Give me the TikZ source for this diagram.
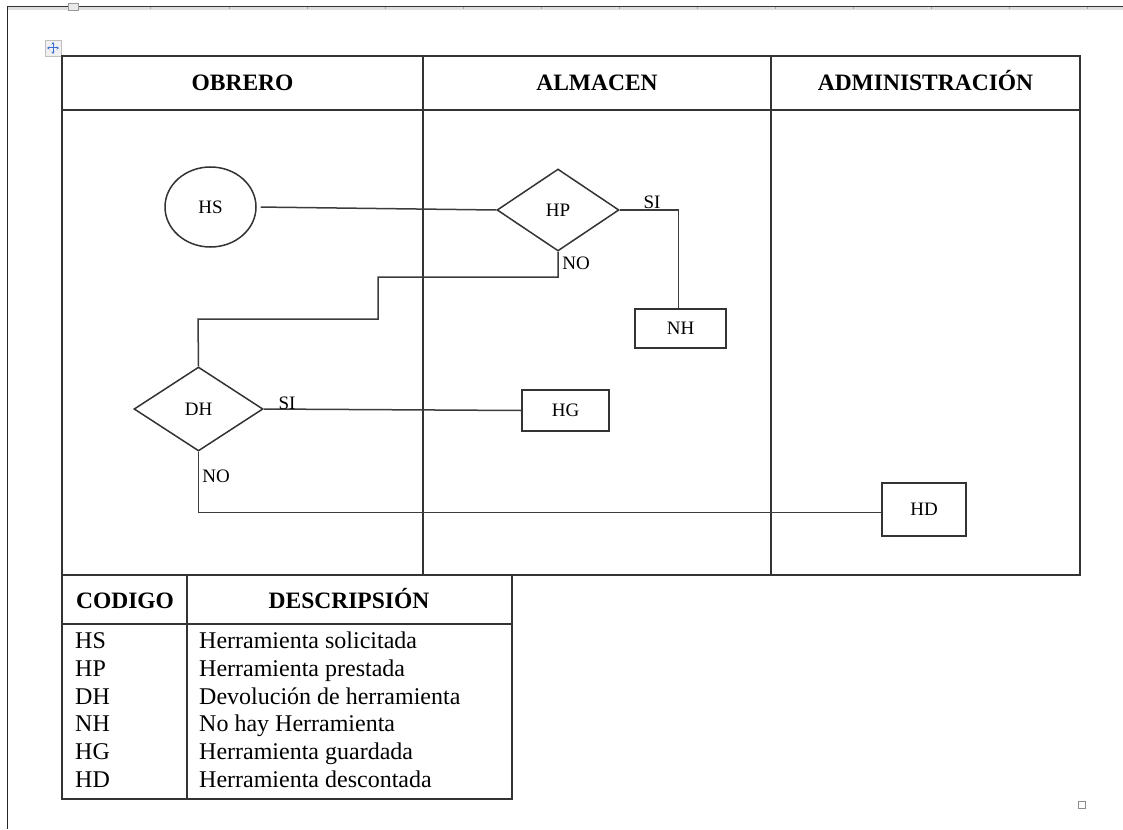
\documentclass[tikz,border=0pt]{standalone}
\usepackage{fontspec}
\setmainfont{Liberation Serif}
\usetikzlibrary{shapes.geometric,arrows.meta}
\definecolor{rule}{HTML}{333333}
\definecolor{conn}{HTML}{3C3C3C}
\definecolor{chrome}{HTML}{C8C8C8}
\definecolor{handle}{HTML}{3B6FD6}
\tikzset{
  frame/.style={draw=rule, line width=1.5pt},
  link/.style={draw=conn, line width=1.5pt},
  head/.style={font=\fontsize{23.5}{28}\selectfont\bfseries, anchor=base, inner sep=0pt},
  cell/.style={font=\fontsize{24}{28}\selectfont, anchor=base west, inner sep=0pt},
  lbl/.style={font=\fontsize{19}{22}\selectfont, inner sep=0pt},
  decision/.style={draw=rule, line width=1.5pt, diamond, inner sep=0pt, font=\fontsize{19}{22}\selectfont},
  stepbox/.style={draw=rule, line width=1.5pt, rectangle, inner sep=0pt, font=\fontsize{19}{22}\selectfont},
  startnode/.style={draw=rule, line width=1.5pt, ellipse, inner sep=0pt, font=\fontsize{19}{22}\selectfont},
}
\begin{document}
\begin{tikzpicture}[x=1pt,y=-1pt]
\useasboundingbox (0,0) rectangle (1123,829);
\fill[white] (0,0) rectangle (1123,829);

% page edge and ruler strip
\fill[chrome!60] (7,7) rectangle (1123,10);
\draw[black!80, line width=1pt] (7,7) -- (1123,7);
\draw[black!85, line width=1pt] (7,7) -- (7,829);
\foreach \t in {150,229,307,385,463,541,619,697,775,853,931,1009,1087}
  \draw[black!35, line width=0.8pt] (\t,7.5) -- (\t,9.5);
\draw[black!40, fill=chrome!40, line width=0.8pt] (68,3) rectangle (78,10);

% table move handle
\draw[black!25, fill=black!6, line width=0.8pt] (45,40) rectangle (61,56);
\draw[handle, line width=1pt, {Stealth[length=2.5pt,width=3pt]}-{Stealth[length=2.5pt,width=3pt]}] (47,48) -- (59,48);
\draw[handle, line width=1pt, {Stealth[length=2.5pt,width=3pt]}-{Stealth[length=2.5pt,width=3pt]}] (53,42) -- (53,54);

% swimlane table
\draw[frame] (62,56) rectangle (1080,575);
\draw[frame] (62,110) -- (1080,110);
\draw[frame] (423,56) -- (423,575);
\draw[frame] (771,56) -- (771,575);
\node[head] (lane1) at (242.5,91) {OBRERO};
\node[head] (lane2) at (597,91) {ALMACEN};
\node[head] (lane3) at (925.5,91) {ADMINISTRACIÓN};

% flow nodes
\node[startnode, minimum width=91pt, minimum height=80pt] (HS) at (210.5,207) {HS};
\node[decision, minimum width=122pt, minimum height=82pt] (HP) at (558,210) {HP};
\node[stepbox, minimum width=91pt, minimum height=39pt] (NH) at (680.5,328.5) {NH};
\node[decision, minimum width=129pt, minimum height=84pt] (DH) at (198.5,409) {DH};
\node[stepbox, minimum width=87pt, minimum height=41pt] (HG) at (565.5,410.5) {HG};
\node[stepbox, minimum width=84pt, minimum height=53pt] (HD) at (924,509.5) {HD};

% bend points of the return path
\coordinate (b1) at (378,277);
\coordinate (b2) at (198,319);

% connectors
\draw[link, shorten <=4pt] (HS.east) -- (HP.west);
\draw[link] (HP.east) -| ([xshift=-2pt]NH.north);
\draw[link] (HP.south) |- (b1) |- (b2) -- (DH.north);
\draw[link] (DH.east) -- (HG.west);
\draw[link] (DH.south) |- ([yshift=-3pt]HD.west);

% branch labels
\node[lbl] (siHP) at (652,202) {SI};
\node[lbl] (noHP) at (576,263) {NO};
\node[lbl] (siDH) at (287,403) {SI};
\node[lbl] (noDH) at (216,476) {NO};

% legend table
\draw[frame] (62,575) rectangle (512,799);
\draw[frame] (62,624) -- (512,624);
\draw[frame] (187,575) -- (187,799);
\node[head] (hcod) at (125,608) {CODIGO};
\node[head] (hdesc) at (349,608) {DESCRIPSIÓN};
\foreach \c/\d/\y [count=\i] in {
  HS/Herramienta solicitada/648,
  HP/Herramienta prestada/676,
  DH/Devolución de herramienta/704,
  NH/No hay Herramienta/731,
  HG/Herramienta guardada/759,
  HD/Herramienta descontada/787}{
  \node[cell] (code\i) at (75,\y) {\c};
  \node[cell] (desc\i) at (199,\y) {\d};
}

% resize mark
\draw[black!45, line width=0.9pt] (1078,801) rectangle (1085,808);
\end{tikzpicture}
\end{document}
